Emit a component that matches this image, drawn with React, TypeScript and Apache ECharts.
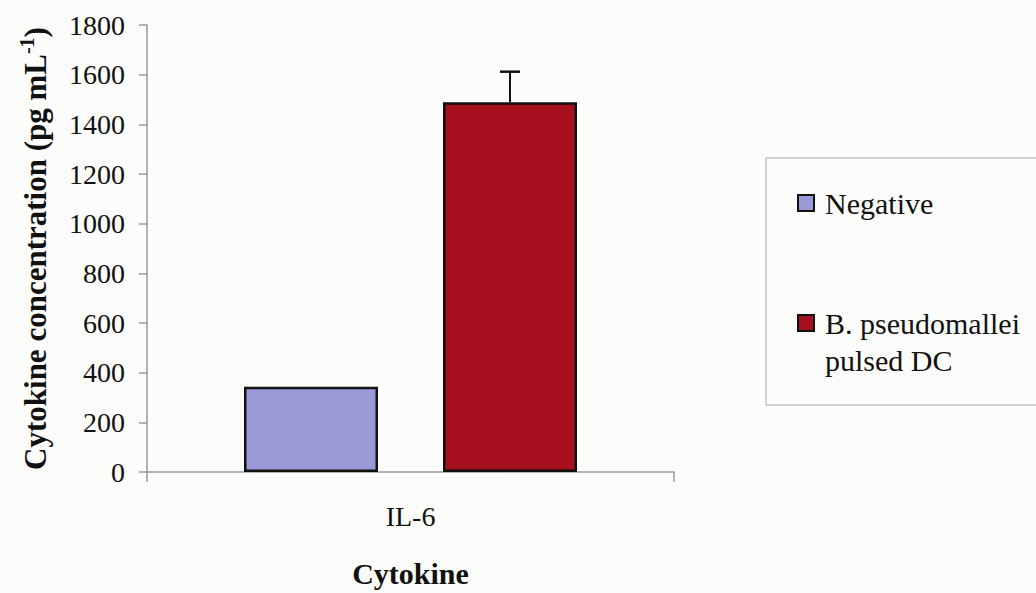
import React, { useEffect, useRef } from "react";
import * as echarts from "echarts";

const categories = ["IL-6"];
const seriesNames = ["Negative", "B. pseudomallei pulsed DC"];
const legendLines = [["Negative"], ["B. pseudomallei", "pulsed DC"]];
const negativeValues = [343];
const pulsedValues = [1489];
const pulsedErrorTop = [1612];
const seriesColors = ["#9a9ad8", "#a60f1e"];
const yMin = 0;
const yMax = 1800;
const yInterval = 200;

const FONT = "'Liberation Serif', 'Times New Roman', serif";
const BAR_W = 134;
const BAR_GAP = 65;

export default function App() {
  const ref = useRef<HTMLDivElement>(null);
  useEffect(() => {
    if (!ref.current) return;
    const chart = echarts.init(ref.current, undefined, { renderer: "svg" });
    const offset = (BAR_W + BAR_GAP) / 2;
    const errorData = categories.map((_, i) => [i, pulsedValues[i], pulsedErrorTop[i]]);
    const legendGraphics: any[] = [
      {
        type: "rect",
        shape: { x: 766, y: 158, width: 300, height: 247 },
        style: { fill: "none", stroke: "#a8a8a8", lineWidth: 1 },
        silent: true,
      },
    ];
    const itemTops = [203, 323];
    legendLines.forEach((lines, i) => {
      legendGraphics.push({
        type: "rect",
        shape: { x: 798, y: itemTops[i] - 8, width: 16, height: 16 },
        style: { fill: seriesColors[i], stroke: "#111", lineWidth: 2 },
      });
      legendGraphics.push({
        type: "text",
        x: 825,
        y: itemTops[i] - 18,
        style: {
          text: lines.join("\n"),
          font: `30px ${FONT}`,
          fill: "#111",
          lineHeight: 37,
          verticalAlign: "top",
          align: "left",
        },
      });
    });

    chart.setOption({
      animation: false,
      backgroundColor: "#fcfcfa",
      grid: { left: 147, right: 362, top: 25, bottom: 117, containLabel: false },
      xAxis: {
        type: "category",
        data: categories,
        axisLine: { show: true, lineStyle: { color: "#9a9a9a", width: 1.5 } },
        axisTick: { show: true, length: 10, lineStyle: { color: "#9a9a9a", width: 1.5 } },
        axisLabel: { fontFamily: FONT, fontSize: 28, color: "#111", margin: 30 },
        name: "Cytokine",
        nameLocation: "middle",
        nameGap: 86,
        nameTextStyle: { fontFamily: FONT, fontSize: 30, fontWeight: "bold", color: "#111" },
      },
      yAxis: {
        type: "value",
        min: yMin,
        max: yMax,
        interval: yInterval,
        splitLine: { show: false },
        axisLine: { show: true, lineStyle: { color: "#9a9a9a", width: 1.5 } },
        axisTick: { show: true, length: 8, lineStyle: { color: "#9a9a9a", width: 1.5 } },
        axisLabel: {
          fontFamily: FONT,
          fontSize: 28,
          color: "#111",
          margin: 22,
          formatter: (v: number) => String(v),
        },
        name: "{b|Cytokine concentration (pg mL}{s|-1}{b|)}",
        nameLocation: "middle",
        nameGap: 94,
        nameTextStyle: {
          fontFamily: FONT,
          fontSize: 31,
          fontWeight: "bold",
          color: "#111",
          rich: {
            b: { fontFamily: FONT, fontSize: 31, fontWeight: "bold", color: "#111", lineHeight: 36 },
            s: { fontFamily: FONT, fontSize: 20, fontWeight: "bold", color: "#111", verticalAlign: "top", lineHeight: 16 },
          },
        },
      },
      series: [
        {
          name: seriesNames[0],
          type: "bar",
          data: negativeValues,
          barWidth: BAR_W,
          barGap: `${(BAR_GAP / BAR_W) * 100}%`,
          itemStyle: { color: seriesColors[0], borderColor: "#111", borderWidth: 2.5 },
        },
        {
          name: seriesNames[1],
          type: "bar",
          data: pulsedValues,
          barWidth: BAR_W,
          itemStyle: { color: seriesColors[1], borderColor: "#111", borderWidth: 2.5 },
        },
        {
          name: "error",
          type: "custom",
          data: errorData,
          z: 10,
          renderItem: (params: any, api: any) => {
            const c = api.value(0);
            const lo = api.coord([c, api.value(1)]);
            const hi = api.coord([c, api.value(2)]);
            const x = lo[0] + offset;
            const cap = 10;
            return {
              type: "group",
              children: [
                { type: "line", shape: { x1: x, y1: lo[1], x2: x, y2: hi[1] }, style: { stroke: "#111", lineWidth: 2 } },
                { type: "line", shape: { x1: x - cap, y1: hi[1], x2: x + cap, y2: hi[1] }, style: { stroke: "#111", lineWidth: 2.5 } },
              ],
            };
          },
        },
      ],
      graphic: legendGraphics,
    });
    return () => chart.dispose();
  }, []);
  return <div ref={ref} style={{ position: "fixed", left: 0, top: 0, width: 1036, height: 593 }} />;
}
